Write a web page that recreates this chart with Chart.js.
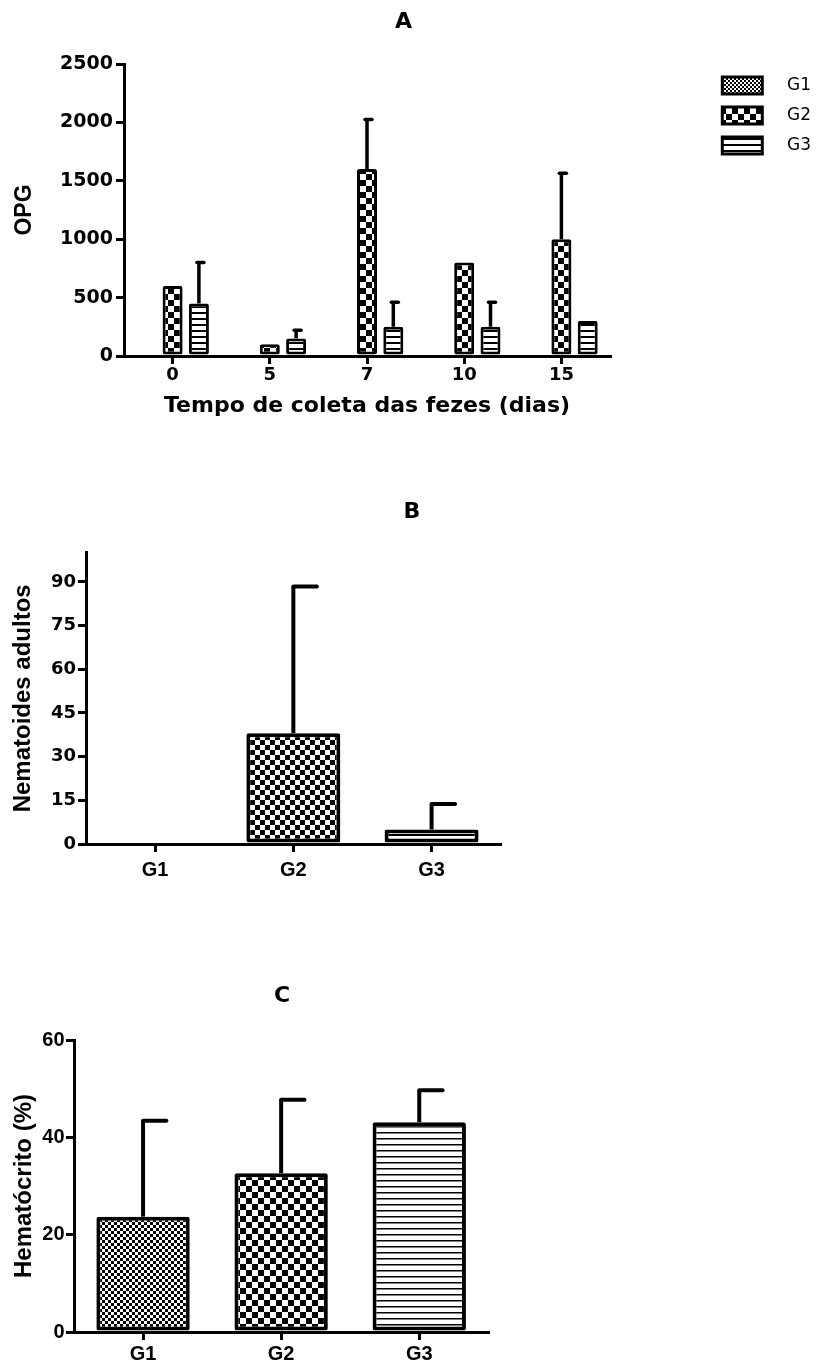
<!DOCTYPE html>
<html><head><meta charset="utf-8">
<script src="https://cdn.jsdelivr.net/npm/chart.js@4.4.1/dist/chart.umd.min.js"></script>
<style>
html,body{margin:0;padding:0;background:#fff;width:827px;height:1367px;overflow:hidden;}
canvas{position:absolute;left:0;}
</style></head>
<body>
<canvas id="cA" width="827" height="440" style="top:0px;width:827px;height:440px"></canvas>
<canvas id="cB" width="824" height="420" style="top:480px;width:824px;height:420px"></canvas>
<canvas id="cC" width="564" height="427" style="top:940px;width:564px;height:427px"></canvas>
<script>
// ---- data ----
const daysA = ['0', '5', '7', '10', '15'];
const seriesNames = ['G1', 'G2', 'G3'];
const opgG1 = [0, 0, 0, 0, 0];
const opgG2 = [600, 100, 1600, 800, 1000];
const opgG3 = [450, 150, 250, 250, 300];
const opgErrG1 = [0, 0, 0, 0, 0];
const opgErrG2 = [0, 0, 425, 0, 565];
const opgErrG3 = [350, 70, 210, 210, 0];
const groups = ['G1', 'G2', 'G3'];
const nematodes = [0, 38, 5];
const nematodesErr = [0, 50.4, 8.7];
const hematocrit = [23.7, 32.6, 43.1];
const hematocritErr = [19.7, 15.1, 6.6];

// ---- patterns ----
function checker(ctx, cell) {
  const c = document.createElement('canvas'); c.width = c.height = cell * 2;
  const g = c.getContext('2d');
  g.fillStyle = '#fff'; g.fillRect(0, 0, cell * 2, cell * 2);
  g.fillStyle = '#000'; g.fillRect(0, 0, cell, cell); g.fillRect(cell, cell, cell, cell);
  return ctx.createPattern(c, 'repeat');
}
function hlines(ctx, period, thick) {
  const c = document.createElement('canvas'); c.width = 8; c.height = period;
  const g = c.getContext('2d');
  g.fillStyle = '#fff'; g.fillRect(0, 0, 8, period);
  g.fillStyle = '#000'; g.fillRect(0, 0, 8, thick);
  return ctx.createPattern(c, 'repeat');
}

// ---- error bar plugin ----
const errorBars = {
  id: 'errorBars',
  afterDatasetsDraw(chart, args, opts) {
    const ctx = chart.ctx, ys = chart.scales.y;
    chart.data.datasets.forEach((ds, di) => {
      const errs = ds.errorPlus; if (!errs) return;
      const meta = chart.getDatasetMeta(di);
      meta.data.forEach((bar, i) => {
        const e = errs[i]; if (!e) return;
        const v = ds.data[i];
        const {x, width} = bar.getProps(['x', 'width'], true);
        const yTop = ys.getPixelForValue(v + e);
        const yBar = ys.getPixelForValue(v);
        ctx.save();
        ctx.strokeStyle = '#000';
        ctx.lineWidth = opts.lineWidth;
        ctx.lineCap = 'butt';
        ctx.beginPath(); ctx.moveTo(x, yBar); ctx.lineTo(x, yTop); ctx.stroke();
        ctx.lineCap = 'round';
        ctx.beginPath(); ctx.moveTo(x - opts.capLeft, yTop); ctx.lineTo(x + width * opts.capRightFrac, yTop); ctx.stroke();
        ctx.restore();
      });
    });
  }
};

const BLK = '#000';
const DJ = "'DejaVu Sans', sans-serif";
const LIB = "'Liberation Sans', Arial, sans-serif";
const plain = v => String(v);

function axisCommon() {
  return {
    grid: {display: true, drawOnChartArea: false, offset: false, tickLength: 8, tickWidth: 3, lineWidth: 3, tickColor: BLK, color: BLK},
    border: {display: true, color: BLK, width: 3}
  };
}

// ---- Chart A ----
const ctxA = document.getElementById('cA').getContext('2d');
const legendPad = 13, legendBox = 40, legendFont = 17, legendPrefix = '   ';
new Chart(ctxA, {
  type: 'bar',
  data: {
    labels: daysA,
    datasets: [
      {label: seriesNames[0], data: opgG1, errorPlus: opgErrG1, backgroundColor: checker(ctxA, 2)},
      {label: seriesNames[1], data: opgG2, errorPlus: opgErrG2, backgroundColor: checker(ctxA, 6)},
      {label: seriesNames[2], data: opgG3, errorPlus: opgErrG3, backgroundColor: hlines(ctxA, 6, 2)}
    ].map(d => Object.assign(d, {borderColor: BLK, borderWidth: 3, borderSkipped: false, borderRadius: 2, categoryPercentage: 0.812, barPercentage: 0.76}))
  },
  options: {
    responsive: false, animation: false, devicePixelRatio: 1,
    layout: {padding: {left: -14, right: 6, top: 0, bottom: 0}},
    plugins: {
      title: {display: true, text: 'A', color: BLK, font: {family: DJ, size: 22, weight: 'bold'}, padding: {top: 8.8, bottom: 28.8}},
      legend: {
        display: true, position: 'right', align: 'start', fullSize: false,
        labels: {
          boxWidth: legendBox, boxHeight: 17, padding: legendPad, color: BLK,
          font: {family: DJ, size: legendFont},
          generateLabels(chart) {
            const items = Chart.defaults.plugins.legend.labels.generateLabels(chart);
            items.forEach(it => { it.text = legendPrefix + it.text; it.lineWidth = 3; });
            return items;
          }
        }
      },
      tooltip: {enabled: false},
      errorBars: {lineWidth: 3.5, capLeft: 2, capRightFrac: 0.25}
    },
    scales: {
      x: Object.assign(axisCommon(), {
        ticks: {color: BLK, font: {family: DJ, size: 18, weight: 'bold'}, padding: 1},
        title: {display: true, text: 'Tempo de coleta das fezes (dias)', color: BLK, font: {family: DJ, size: 22, weight: 'bold'}, padding: {top: 0, bottom: 20.8}},
        afterFit(s) { s.height = 84; }
      }),
      y: Object.assign(axisCommon(), {
        min: 0, max: 2500,
        ticks: {stepSize: 500, callback: plain, color: BLK, font: {family: DJ, size: 19, weight: 'bold'}, padding: 3},
        title: {display: true, text: 'OPG', color: BLK, font: {family: LIB, size: 23, weight: 'bold'}, padding: {top: 25.2, bottom: 0}},
        afterFit(s) { s.width = 138; }
      }),
      y2: {
        type: 'linear', axis: 'y', position: 'right', display: true,
        grid: {display: false, drawTicks: false}, border: {display: false}, ticks: {display: false},
        afterFit(s) {
          const c = s.ctx; c.save(); c.font = 'normal ' + legendFont + 'px ' + DJ;
          let tw = 0; seriesNames.forEach(t => { tw = Math.max(tw, c.measureText(legendPrefix + t).width); });
          c.restore();
          const W = legendPad + legendBox + legendFont / 2 + tw + 10;
          s.width = 827 - 6 - 610 - W;
        }
      }
    }
  },
  plugins: [errorBars]
});

// ---- Chart B ----
const ctxB = document.getElementById('cB').getContext('2d');
new Chart(ctxB, {
  type: 'bar',
  data: {
    labels: groups,
    datasets: [{
      label: 'Nematoides adultos', data: nematodes, errorPlus: nematodesErr,
      backgroundColor: [checker(ctxB, 2), checker(ctxB, 5), hlines(ctxB, 6, 2)],
      borderColor: BLK, borderWidth: 4, borderSkipped: false, borderRadius: 2,
      categoryPercentage: 0.8, barPercentage: 0.85
    }]
  },
  options: {
    responsive: false, animation: false, devicePixelRatio: 1,
    layout: {padding: 0},
    plugins: {
      title: {display: true, text: 'B', color: BLK, font: {family: DJ, size: 22, weight: 'bold'}, padding: {top: 18.8, bottom: 27.5}},
      legend: {display: false}, tooltip: {enabled: false},
      errorBars: {lineWidth: 4, capLeft: 0, capRightFrac: 0.25}
    },
    scales: {
      x: Object.assign(axisCommon(), {
        ticks: {color: BLK, font: {family: LIB, size: 20, weight: 'bold'}, padding: 6},
        afterFit(s) { s.height = 56; }
      }),
      y: Object.assign(axisCommon(), {
        min: 0, max: 100,
        ticks: {stepSize: 15, includeBounds: false, callback: plain, color: BLK, font: {family: DJ, size: 18, weight: 'bold'}, padding: 2},
        title: {display: true, text: 'Nematoides adultos', color: BLK, font: {family: LIB, size: 24, weight: 'bold'}, padding: {top: 8.6, bottom: 0}},
        afterFit(s) { s.width = 86; }
      }),
      y2: {
        type: 'linear', axis: 'y', position: 'right', display: true,
        grid: {display: false, drawTicks: false}, border: {display: false}, ticks: {display: false},
        afterFit(s) { s.width = 323.3; }
      }
    }
  },
  plugins: [errorBars]
});

// ---- Chart C ----
const ctxC = document.getElementById('cC').getContext('2d');
new Chart(ctxC, {
  type: 'bar',
  data: {
    labels: groups,
    datasets: [{
      label: 'Hematócrito (%)', data: hematocrit, errorPlus: hematocritErr,
      backgroundColor: [checker(ctxC, 3), checker(ctxC, 6), hlines(ctxC, 6, 1.5)],
      borderColor: BLK, borderWidth: 4, borderSkipped: false, borderRadius: 2,
      categoryPercentage: 0.8, barPercentage: 0.845
    }]
  },
  options: {
    responsive: false, animation: false, devicePixelRatio: 1,
    layout: {padding: 0},
    plugins: {
      title: {display: true, text: 'C', color: BLK, font: {family: DJ, size: 22, weight: 'bold'}, padding: {top: 43.5, bottom: 30.1}},
      legend: {display: false}, tooltip: {enabled: false},
      errorBars: {lineWidth: 4, capLeft: 0, capRightFrac: 0.25}
    },
    scales: {
      x: Object.assign(axisCommon(), {
        ticks: {color: BLK, font: {family: LIB, size: 20, weight: 'bold'}, padding: 2},
        afterFit(s) { s.height = 35; }
      }),
      y: Object.assign(axisCommon(), {
        min: 0, max: 60,
        ticks: {stepSize: 20, callback: plain, color: BLK, font: {family: LIB, size: 20, weight: 'bold'}, padding: 1.5},
        title: {display: true, text: 'Hematócrito (%)', color: BLK, font: {family: LIB, size: 24, weight: 'bold'}, padding: {top: 9.6, bottom: 0}},
        afterFit(s) { s.width = 74; }
      }),
      y2: {
        type: 'linear', axis: 'y', position: 'right', display: true,
        grid: {display: false, drawTicks: false}, border: {display: false}, ticks: {display: false},
        afterFit(s) { s.width = 75.7; }
      }
    }
  },
  plugins: [errorBars]
});
</script>
</body></html>
